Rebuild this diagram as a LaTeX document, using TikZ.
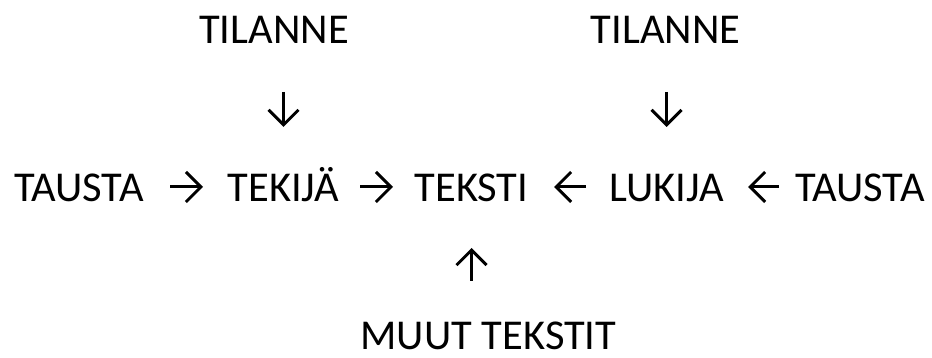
\documentclass[tikz,border=0pt]{standalone}
\usepackage{fontspec}
\setmainfont{Carlito}
\usetikzlibrary{arrows.meta}
\begin{document}
\begin{tikzpicture}[x=1pt,y=1pt,
  word/.style={inner sep=0pt, anchor=base, text height=30pt, text depth=0pt,
    font=\fontsize{42.5}{50}\selectfont},
  flow/.style={line width=3pt, -{Straight Barb[length=15pt,width=30pt,line width=3pt]}}]
  \useasboundingbox (0,0) rectangle (932,358);
  % top row
  \node[word] (tilA) at (274,314) {TILANNE};
  \node[word] (tilB) at (665.5,314) {TILANNE};
  % main row
  \node[word] (tauA) at (79,156) {TAUSTA};
  \node[word] (tek)  at (283.5,156) {TEKIJÄ};
  \node[word] (txt)  at (471.5,156) {TEKSTI};
  \node[word] (luk)  at (666.5,156) {LUKIJA};
  \node[word] (tauB) at (860,156) {TAUSTA};
  % bottom row
  \node[word] (muut) at (488.5,8) {MUUT TEKSTIT};
  % horizontal connectors
  \draw[flow, shorten <=91pt, shorten >=80.5pt] (tauA.center) -- (tek.center);
  \draw[flow, shorten <=76.5pt, shorten >=78.5pt] (tek.center) -- (txt.center);
  \draw[flow, shorten <=80.5pt, shorten >=82.5pt] (luk.center) -- (txt.center);
  \draw[flow, shorten <=81pt, shorten >=81.5pt] (tauB.center) -- (luk.center);
  % vertical connectors
  \draw[flow, shorten <=63pt, shorten >=60pt] (tek.center |- tilA.center) -- (tek.center);
  \draw[flow, shorten <=63pt, shorten >=60pt] (luk.center |- tilB.center) -- (luk.center);
  \draw[flow, shorten <=54pt, shorten >=61pt] (txt.center |- muut.center) -- (txt.center);
\end{tikzpicture}
\end{document}
